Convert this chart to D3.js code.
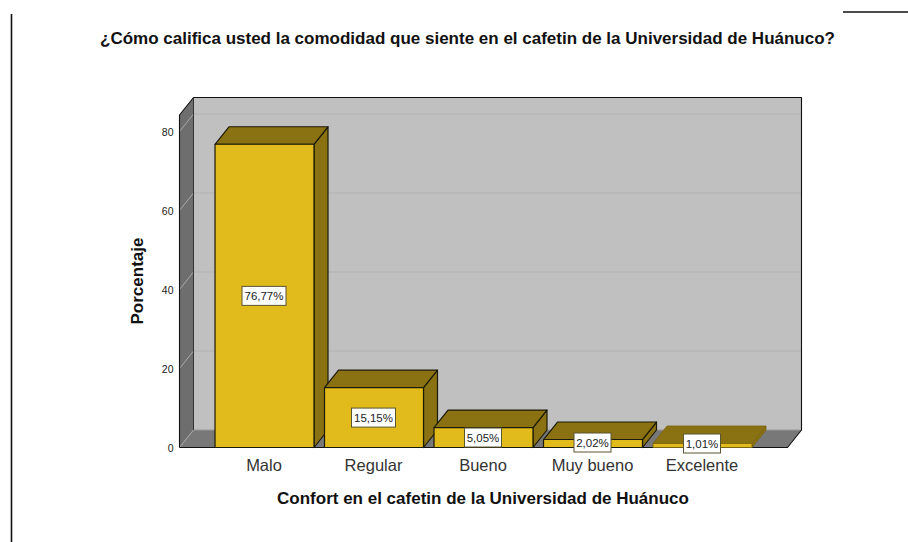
<!DOCTYPE html>
<html><head><meta charset="utf-8">
<script src="https://cdn.jsdelivr.net/npm/d3@7/dist/d3.min.js"></script>
<style>html,body{margin:0;padding:0;background:#fff}svg{display:block}text{font-family:"Liberation Sans",Arial,sans-serif}</style>
</head><body><svg id="c" width="908" height="542"></svg>
<script>
const categories=["Malo","Regular","Bueno","Muy bueno","Excelente"];
const values=[76.77,15.15,5.05,2.02,1.01];
const valueLabels=["76,77%","15,15%","5,05%","2,02%","1,01%"];
const yTicks=[0,20,40,60,80];
const titleText="¿Cómo califica usted la comodidad que siente en el cafetin de la Universidad de Huánuco?";
const xTitle="Confort en el cafetin de la Universidad de Huánuco";
const yTitle="Porcentaje";

const svg=d3.select("#c");
const dx=14,dy=17.5;
const left=179.5,right=787.5,base=447.5;
const y=d3.scaleLinear().domain([0,80]).range([base,131.5]);
const x=d3.scaleBand().domain(categories).range([209.75,757.25]).paddingInner(.096).paddingOuter(.048);
const wallTop=97.5;
const poly=(pts,fill,stroke,w)=>svg.append("polygon").attr("points",pts.map(p=>p.join(",")).join(" ")).attr("fill",fill).attr("stroke",stroke||"none").attr("stroke-width",w||1).attr("stroke-linejoin","round");

// page rules
svg.append("line").attr("x1",11.5).attr("x2",11.5).attr("y1",14).attr("y2",542).attr("stroke","#111").attr("stroke-width",1.6);
svg.append("line").attr("x1",843).attr("x2",908).attr("y1",12).attr("y2",12).attr("stroke","#111").attr("stroke-width",1.6);

// walls
poly([[left+dx,wallTop],[right+dx,wallTop],[right+dx,base-dy],[left+dx,base-dy]],"#c0c0c0");
poly([[left,base],[left+dx,base-dy],[right+dx,base-dy],[right,base]],"#787878");
poly([[left,wallTop+dy],[left+dx,wallTop],[left+dx,base-dy],[left,base]],"#6e6e6e");
// grid
yTicks.forEach(t=>{
  const py=y(t);
  if(t>0) svg.append("line").attr("x1",left+dx).attr("x2",right+dx).attr("y1",py-dy).attr("y2",py-dy).attr("stroke","#b2b2b2").attr("stroke-width",1.2);
  svg.append("line").attr("x1",left).attr("x2",left+dx).attr("y1",py).attr("y2",py-dy).attr("stroke","#a8a8a8").attr("stroke-width",1);
});
svg.append("line").attr("x1",left+dx).attr("x2",right+dx).attr("y1",base-dy).attr("y2",base-dy).attr("stroke","#9a9a9a").attr("stroke-width",1.2);
// wall outlines
svg.append("path").attr("fill","none").attr("stroke","#111").attr("stroke-width",1.1).attr("stroke-linejoin","round")
 .attr("d",`M${left},${base}V${wallTop+dy}L${left+dx},${wallTop}H${right+dx}V${base-dy}L${right},${base}H${left}`);
svg.append("line").attr("x1",left+dx).attr("x2",left+dx).attr("y1",wallTop).attr("y2",base-dy).attr("stroke","#333").attr("stroke-width",1);

// bars
const front="#e0bb1b",side="#8a7212";
categories.forEach((c,i)=>{
  const x0=x(c),x1=x0+x.bandwidth(),t=y(values[i]);
  const st=i===4?"#7a6510":"#1c1a08", sw=i===4?.8:1.2;
  poly([[x1,t],[x1+dx,t-dy],[x1+dx,base-dy],[x1,base]],side,st,sw);
  poly([[x0,t],[x0+dx,t-dy],[x1+dx,t-dy],[x1,t]],side,st,sw);
  poly([[x0,t],[x1,t],[x1,base],[x0,base]],front,st,sw);
});

// axes
const ya=svg.append("g").attr("transform",`translate(${left},1)`).call(d3.axisLeft(y).tickValues(yTicks).tickSize(0).tickPadding(6));
ya.select(".domain").remove();
ya.selectAll("text").attr("font-size",10.5).attr("fill","#222").style("font-family",'"Liberation Sans"');
const xa=svg.append("g").attr("transform",`translate(-0.5,${base+2})`).call(d3.axisBottom(x).tickSize(0).tickPadding(10));
xa.select(".domain").remove();
xa.selectAll("text").attr("font-size",16.5).attr("fill","#333").style("font-family",'"Liberation Sans"');

// value labels
categories.forEach((c,i)=>{
  const cx=x(c)+x.bandwidth()/2-.5;
  const cy=(y(values[i])+base)/2+[0,0,0,-1,-2][i];
  const w=[44,44,37,37,37][i],h=19;
  svg.append("rect").attr("x",cx-w/2).attr("y",cy-h/2).attr("width",w).attr("height",h).attr("fill","#fff").attr("stroke","#5a5630").attr("stroke-width",1);
  svg.append("text").attr("x",cx).attr("y",cy+4).attr("text-anchor","middle").attr("font-size",11.5).attr("fill","#222").text(valueLabels[i]);
});

// titles
svg.append("text").attr("x",467.5).attr("y",44).attr("text-anchor","middle").attr("font-size",17).attr("font-weight","bold").attr("fill","#111").text(titleText);
svg.append("text").attr("x",483).attr("y",504).attr("text-anchor","middle").attr("font-size",17).attr("font-weight","bold").attr("fill","#111").text(xTitle);
svg.append("text").attr("transform","translate(143,281) rotate(-90)").attr("text-anchor","middle").attr("font-size",17).attr("font-weight","bold").attr("fill","#111").text(yTitle);
</script></body></html>
